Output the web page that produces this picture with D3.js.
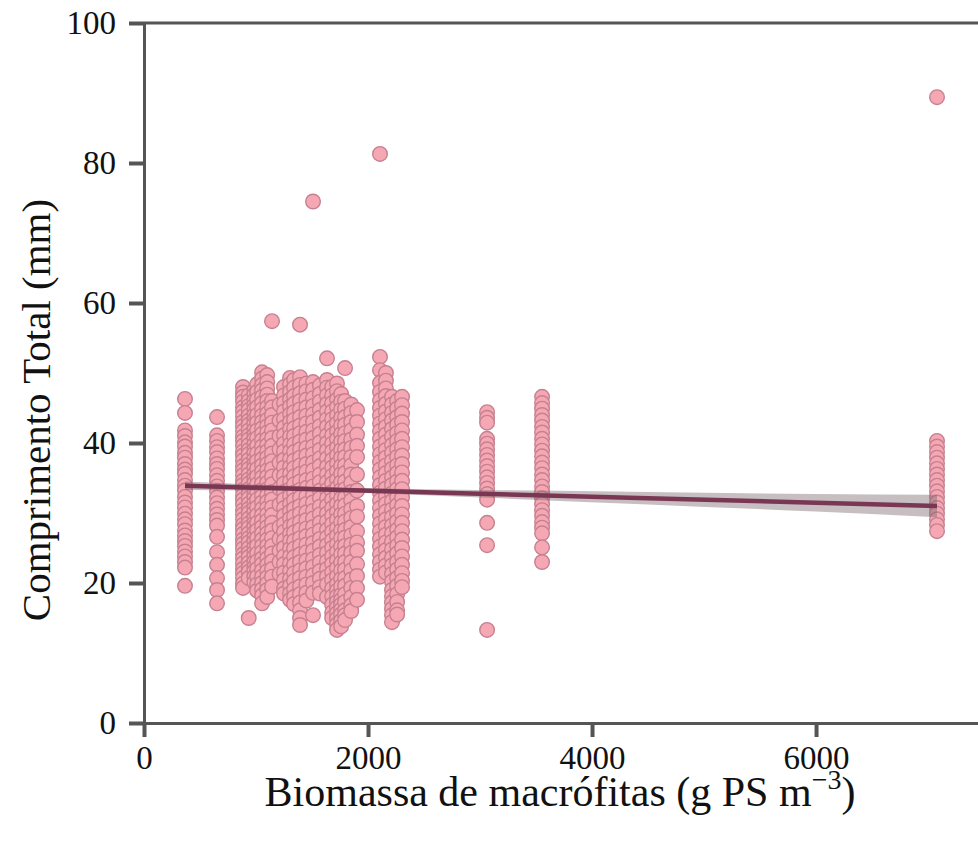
<!DOCTYPE html>
<html>
<head>
<meta charset="utf-8">
<script src="https://cdn.jsdelivr.net/npm/d3@7"></script>
<style>
  body { margin: 0; background: #fff; }
  svg { display: block; font-family: "Liberation Serif", "Times New Roman", serif; }
</style>
</head>
<body>
<script>
// biomass levels (g PS m-3) and total length (mm) of each fish at that level
var len366 = [46.3, 44.3, 41.8, 41.0, 40.1, 39.5, 38.6, 37.9, 37.0, 36.2, 35.6, 34.7, 33.9, 33.2, 32.3, 31.5, 30.8, 29.9, 29.1, 28.4, 27.5, 26.8, 26.0, 25.3, 24.5, 23.8, 23.0, 22.2, 19.6];
var len652 = [43.7, 41.1, 40.3, 39.4, 38.7, 37.8, 37.0, 36.3, 35.4, 34.6, 33.8, 33.1, 32.2, 31.4, 30.6, 29.8, 29.0, 28.2, 26.6, 24.4, 22.6, 20.7, 19.0, 17.1];
var len884 = [48.0, 47.2, 46.6, 45.9, 45.1, 44.5, 43.8, 43.0, 42.4, 41.7, 40.9, 40.3, 39.6, 38.8, 38.2, 37.5, 36.7, 36.1, 35.4, 34.6, 34.0, 33.3, 32.5, 31.9, 31.2, 30.4, 29.8, 29.1, 28.3, 27.7, 27.0, 26.2, 25.6, 24.9, 24.1, 23.5, 22.8, 22.0, 21.4, 20.7, 19.9, 19.3];
var len935 = [46.8, 46.0, 45.3, 44.7, 43.9, 43.2, 42.6, 41.8, 41.1, 40.5, 39.7, 39.0, 38.4, 37.6, 36.9, 36.3, 35.5, 34.8, 34.2, 33.4, 32.7, 32.1, 31.3, 30.6, 30.0, 29.2, 28.5, 27.9, 27.1, 26.4, 25.8, 25.0, 24.3, 23.7, 22.9, 22.2, 21.6, 20.7, 15.0];
var len985 = [47.6, 46.9, 46.1, 45.4, 44.8, 44.0, 43.3, 42.7, 41.9, 41.2, 40.6, 39.8, 39.1, 38.5, 37.7, 37.0, 36.4, 35.6, 34.9, 34.3, 33.5, 32.8, 32.2, 31.4, 30.7, 30.1, 29.3, 28.6, 28.0, 27.2, 26.5, 25.9, 25.1, 24.4, 23.8, 23.0, 22.3, 21.7, 20.9, 20.1];
var len1010 = [48.4, 47.3, 46.2, 45.1, 44.0, 42.9, 41.8, 40.7, 39.6, 38.5, 37.4, 36.3, 35.2, 34.1, 33.0, 31.9, 30.8, 29.7, 28.6, 27.5, 26.4, 25.3, 24.2, 23.1, 22.0, 20.9, 19.8, 18.9];
var len1054 = [50.1, 49.2, 48.3, 47.5, 46.6, 45.7, 44.8, 43.9, 43.0, 42.1, 41.3, 40.4, 39.5, 38.6, 37.7, 36.8, 35.9, 35.1, 34.2, 33.3, 32.4, 31.5, 30.6, 29.7, 28.9, 28.0, 27.1, 26.2, 25.3, 24.4, 23.5, 22.7, 21.8, 20.9, 20.0, 19.1, 18.2, 17.1];
var len1100 = [49.7, 48.7, 47.8, 46.9, 46.0, 45.1, 44.2, 43.3, 42.4, 41.5, 40.6, 39.7, 38.8, 37.9, 37.0, 36.1, 35.2, 34.3, 33.4, 32.5, 31.6, 30.7, 29.8, 28.9, 28.0, 27.1, 26.2, 25.3, 24.4, 23.5, 22.6, 21.7, 20.8, 19.9, 19.0, 18.0];
var len1143 = [57.4, 46.0, 45.1, 44.0, 42.9, 41.8, 40.7, 39.6, 38.5, 37.4, 36.3, 35.2, 34.1, 33.0, 31.9, 30.8, 29.7, 28.6, 27.5, 26.4, 25.3, 24.2, 23.1, 22.0, 20.9, 19.5];
var len1210 = [45.5, 43.2, 41.0, 39.1, 37.2, 35.4, 33.5, 31.2, 28.0, 26.3, 24.6, 23.0, 21.3];
var len1250 = [48.0, 46.8, 45.7, 44.5, 43.4, 42.2, 41.1, 39.9, 38.8, 37.6, 36.5, 35.3, 34.2, 33.0, 31.9, 30.7, 29.6, 28.4, 27.3, 26.1, 25.0, 23.8, 22.7, 21.5, 20.4, 19.2, 18.5];
var len1304 = [49.3, 48.4, 47.3, 46.2, 45.2, 44.1, 43.0, 42.0, 40.9, 39.8, 38.8, 37.7, 36.6, 35.6, 34.5, 33.4, 32.4, 31.3, 30.2, 29.2, 28.1, 27.0, 26.0, 24.9, 23.8, 22.8, 21.7, 20.6, 19.6, 18.5, 17.6];
var len1340 = [49.0, 47.9, 46.7, 45.6, 44.4, 43.3, 42.1, 41.0, 39.8, 38.7, 37.5, 36.4, 35.2, 34.1, 32.9, 31.8, 30.6, 29.5, 28.3, 27.2, 26.0, 24.9, 23.7, 22.6, 21.4, 20.3, 19.1, 18.0, 17.0];
var len1393 = [56.9, 49.4, 48.3, 47.1, 46.0, 44.8, 43.7, 42.5, 41.4, 40.2, 39.1, 37.9, 36.8, 35.6, 34.5, 33.3, 32.2, 31.0, 29.9, 28.7, 27.6, 26.4, 25.3, 24.1, 23.0, 21.8, 20.7, 19.5, 18.4, 17.2, 16.1, 15.0, 14.0];
var len1450 = [48.5, 47.4, 46.2, 45.1, 43.9, 42.8, 41.6, 40.5, 39.3, 38.2, 37.0, 35.9, 34.7, 33.6, 32.4, 31.3, 30.1, 29.0, 27.8, 26.7, 25.5, 24.4, 23.2, 22.1, 20.9, 19.8, 18.6, 17.5];
var len1509 = [74.5, 48.7, 47.6, 46.4, 45.3, 44.1, 43.0, 41.8, 40.7, 39.5, 38.4, 37.2, 36.1, 34.9, 33.8, 32.6, 31.5, 30.3, 29.2, 28.0, 26.9, 25.7, 24.6, 23.4, 22.3, 21.1, 20.0, 18.6, 15.4];
var len1570 = [48.2, 47.0, 45.9, 44.7, 43.6, 42.4, 41.3, 40.1, 39.0, 37.8, 36.7, 35.5, 34.4, 33.2, 32.1, 30.9, 29.8, 28.6, 27.5, 26.3, 25.2, 24.0, 22.9, 21.7, 20.6, 19.4, 18.5];
var len1634 = [52.1, 49.0, 47.9, 46.8, 45.6, 44.5, 43.4, 42.3, 41.1, 40.0, 38.9, 37.8, 36.6, 35.5, 34.4, 33.3, 32.1, 31.0, 29.9, 28.8, 27.6, 26.5, 25.4, 24.3, 23.1, 22.0, 20.9, 19.8, 18.0];
var len1680 = [48.0, 46.8, 45.7, 44.5, 43.4, 42.2, 41.1, 39.9, 38.8, 37.6, 36.5, 35.3, 34.2, 33.0, 31.9, 30.7, 29.6, 28.4, 27.3, 26.1, 25.0, 23.8, 22.7, 21.5, 20.4, 19.2, 18.1, 16.9, 15.8, 15.0];
var len1723 = [48.5, 47.4, 46.2, 45.1, 43.9, 42.8, 41.6, 40.5, 39.3, 38.2, 37.0, 35.9, 34.7, 33.6, 32.4, 31.3, 30.1, 29.0, 27.8, 26.7, 25.5, 24.4, 23.2, 22.1, 20.9, 19.8, 18.9, 18.1, 17.3, 16.5, 15.7, 14.9, 14.1, 13.3];
var len1760 = [47.0, 45.9, 44.8, 43.6, 42.5, 41.3, 40.2, 39.0, 37.9, 36.7, 35.6, 34.4, 33.3, 32.1, 31.0, 29.8, 28.7, 27.5, 26.4, 25.2, 24.1, 22.9, 21.8, 20.6, 19.5, 18.3, 17.6, 16.9, 16.2, 15.5, 14.6, 13.8];
var len1795 = [50.7, 46.0, 44.9, 43.7, 42.6, 41.4, 40.3, 39.1, 38.0, 36.8, 35.7, 34.5, 33.4, 32.2, 31.1, 29.9, 28.8, 27.6, 26.5, 25.3, 24.2, 23.0, 21.9, 20.7, 19.6, 18.4, 17.3, 16.1, 15.4, 14.7];
var len1850 = [45.5, 44.3, 43.0, 41.8, 40.5, 39.3, 38.0, 36.8, 35.5, 34.3, 33.0, 31.8, 30.5, 29.3, 28.0, 26.8, 25.5, 24.3, 23.0, 21.8, 20.5, 19.3, 18.0, 16.8, 16.0];
var len1902 = [44.7, 43.0, 41.2, 39.6, 38.0, 35.5, 33.2, 31.0, 29.5, 27.4, 25.8, 24.6, 22.7, 21.0, 19.3, 17.6];
var len2107 = [81.3, 52.3, 50.4, 48.6, 47.3, 46.1, 45.0, 43.9, 42.8, 41.7, 40.6, 39.5, 38.4, 37.3, 36.2, 35.1, 34.0, 32.9, 31.8, 30.7, 29.6, 28.5, 27.4, 26.3, 25.2, 24.1, 23.0, 21.9, 20.9];
var len2160 = [50.0, 48.9, 47.8, 46.7, 45.6, 44.5, 43.4, 42.3, 41.2, 40.1, 39.0, 37.9, 36.8, 35.7, 34.6, 33.5, 32.4, 31.3, 30.2, 29.1, 28.0, 26.9, 25.8, 24.7, 23.6, 22.5, 21.5];
var len2214 = [46.6, 45.5, 44.3, 43.2, 42.0, 40.9, 39.7, 38.6, 37.4, 36.3, 35.1, 34.0, 32.8, 31.7, 30.5, 29.4, 28.2, 27.1, 25.9, 24.8, 23.6, 22.5, 21.3, 20.2, 19.0, 18.1, 17.2, 16.3, 15.4, 14.4];
var len2260 = [46.0, 44.9, 43.7, 42.6, 41.4, 40.3, 39.1, 38.0, 36.8, 35.7, 34.5, 33.4, 32.2, 31.1, 29.9, 28.8, 27.6, 26.5, 25.3, 24.2, 23.0, 21.9, 20.7, 19.6, 18.4, 17.3, 16.1, 15.5];
var len2304 = [46.6, 45.4, 44.2, 43.0, 41.8, 40.6, 39.4, 38.2, 37.0, 35.8, 34.6, 33.4, 32.2, 31.0, 29.8, 28.6, 27.4, 26.2, 25.0, 23.8, 22.6, 21.4, 20.3, 19.4];
var len3063 = [44.4, 43.6, 42.9, 40.6, 39.9, 39.1, 38.3, 37.5, 36.7, 35.9, 35.1, 34.3, 33.5, 32.7, 31.9, 28.6, 25.4, 13.3];
var len3554 = [46.6, 45.7, 44.9, 44.0, 43.2, 42.3, 41.5, 40.6, 39.8, 38.9, 38.1, 37.2, 36.4, 35.5, 34.7, 33.8, 33.0, 32.1, 31.3, 30.4, 29.6, 28.7, 27.9, 27.1, 25.1, 23.0];
var len7080 = [89.4, 40.3, 39.5, 38.7, 37.9, 37.1, 36.3, 35.5, 34.7, 33.9, 33.1, 32.3, 31.5, 30.7, 29.9, 29.1, 28.3, 27.4];

var biomass = [366, 652, 884, 935, 985, 1010, 1054, 1100, 1143, 1210, 1250, 1304, 1340, 1393, 1450, 1509, 1570, 1634, 1680, 1723, 1760, 1795, 1850, 1902, 2107, 2160, 2214, 2260, 2304, 3063, 3554, 7080];
var lengths = [len366, len652, len884, len935, len985, len1010, len1054, len1100, len1143, len1210, len1250, len1304, len1340, len1393, len1450, len1509, len1570, len1634, len1680, len1723, len1760, len1795, len1850, len1902, len2107, len2160, len2214, len2260, len2304, len3063, len3554, len7080];

// regression line and its confidence band
var fitX = [366, 1700, 3000, 4500, 6000, 7080];
var fitY = [33.9, 33.32, 32.76, 32.11, 31.47, 31.0];
var ciLow = [33.3, 33.0, 32.2, 31.2, 30.2, 29.4];
var ciHigh = [34.5, 33.65, 33.3, 33.0, 32.7, 32.6];

var xTicks = [0, 2000, 4000, 6000];
var yTicks = [0, 20, 40, 60, 80, 100];

var W = 978, H = 841;
var plotLeft = 144, plotTop = 23, plotBottom = 723;

var svg = d3.select("body").append("svg")
    .attr("width", W)
    .attr("height", H);

var x = d3.scaleLinear().domain([0, 7446]).range([plotLeft, W]);
var y = d3.scaleLinear().domain([0, 100]).range([plotBottom, plotTop]);

var points = [];
biomass.forEach(function (b, i) {
    lengths[i].forEach(function (v) { points.push([b, v]); });
});

svg.append("g").selectAll("circle")
    .data(points)
    .enter().append("circle")
    .attr("cx", d => x(d[0]))
    .attr("cy", d => y(d[1]))
    .attr("r", 7.3)
    .attr("fill", "#f5a8b4")
    .attr("stroke", "#c6808f")
    .attr("stroke-width", 1.4);

var band = fitX.map((v, i) => [v, ciLow[i], ciHigh[i]]);
svg.append("path")
    .datum(band)
    .attr("fill", "rgb(120,100,105)")
    .attr("fill-opacity", 0.42)
    .attr("d", d3.area().x(d => x(d[0])).y0(d => y(d[1])).y1(d => y(d[2])).curve(d3.curveMonotoneX));

svg.append("path")
    .datum(fitX.map((v, i) => [v, fitY[i]]))
    .attr("fill", "none")
    .attr("stroke", "#7a3754")
    .attr("stroke-width", 4.5)
    .attr("d", d3.line().x(d => x(d[0])).y(d => y(d[1])));

// axes
var yAxis = svg.append("g")
    .attr("transform", "translate(" + plotLeft + ",0)")
    .call(d3.axisLeft(y).tickValues(yTicks).tickFormat(d3.format("d")).tickSize(15).tickPadding(13).tickSizeOuter(0));
var xAxis = svg.append("g")
    .attr("transform", "translate(0," + plotBottom + ")")
    .call(d3.axisBottom(x).tickValues(xTicks).tickFormat(d3.format("d")).tickSize(14).tickPadding(9).tickSizeOuter(0));

[xAxis, yAxis].forEach(function (g) {
    g.select(".domain").attr("stroke", "#555").attr("stroke-width", 3);
    g.selectAll(".tick line").attr("stroke", "#555").attr("stroke-width", 4);
    g.selectAll(".tick text").attr("fill", "#111").style("font-size", "33px")
        .style("font-family", "Liberation Serif, serif");
});

// top spine
svg.append("line")
    .attr("x1", plotLeft).attr("x2", W)
    .attr("y1", y(100)).attr("y2", y(100))
    .attr("stroke", "#555").attr("stroke-width", 3);

// titles
var xt = svg.append("text")
    .attr("x", 560).attr("y", 806)
    .attr("text-anchor", "middle")
    .style("font-size", "42px")
    .attr("fill", "#111");
xt.append("tspan").text("Biomassa de macrófitas (g PS m");
xt.append("tspan").attr("dy", -17).style("font-size", "28px").text("\u22123");
xt.append("tspan").attr("dy", 17).text(")");

svg.append("text")
    .attr("transform", "translate(50,410) rotate(-90)")
    .attr("text-anchor", "middle")
    .style("font-size", "41px")
    .attr("fill", "#111")
    .text("Comprimento Total (mm)");
</script>
</body>
</html>
